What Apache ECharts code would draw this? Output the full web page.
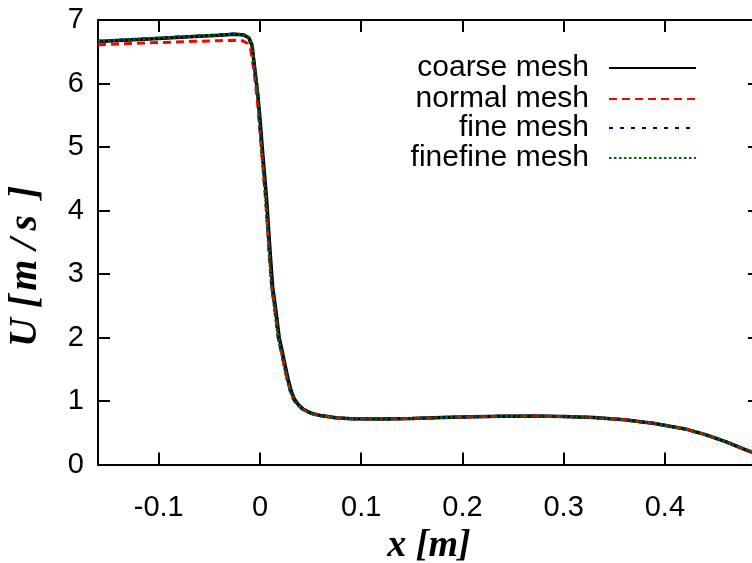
<!DOCTYPE html>
<html>
<head>
<meta charset="utf-8">
<script src="https://cdn.jsdelivr.net/npm/echarts@6/dist/echarts.min.js"></script>
<style>
html,body{margin:0;padding:0;background:#fff;}
#chart{width:752px;height:563px;}
</style>
</head>
<body>
<div id="chart"></div>
<script>
// ---- data ----
var seriesNames = ['coarse mesh', 'normal mesh', 'fine mesh', 'finefine mesh'];
var xTicks = [-0.1, 0, 0.1, 0.2, 0.3, 0.4];
var yTicks = [0, 1, 2, 3, 4, 5, 6, 7];

var xCoarse = [-0.16, -0.13, -0.10, -0.07, -0.04, -0.025, -0.016, -0.011, -0.008, -0.005, -0.002, 0.000, 0.003, 0.0066, 0.010, 0.0125, 0.0155, 0.019, 0.022, 0.025, 0.028, 0.031, 0.034, 0.038, 0.043, 0.050, 0.060, 0.075, 0.09, 0.12, 0.15, 0.18, 0.21, 0.24, 0.27, 0.30, 0.33, 0.36, 0.39, 0.42, 0.44, 0.46, 0.48, 0.494];
var uCoarse = [6.66, 6.685, 6.71, 6.735, 6.76, 6.775, 6.765, 6.72, 6.61, 6.22, 5.80, 5.45, 4.85, 4.17, 3.35, 2.80, 2.45, 2.00, 1.78, 1.55, 1.33, 1.15, 1.03, 0.94, 0.87, 0.81, 0.77, 0.735, 0.72, 0.715, 0.725, 0.74, 0.752, 0.76, 0.762, 0.755, 0.74, 0.705, 0.645, 0.56, 0.47, 0.36, 0.23, 0.15];

var xNormal = [-0.16, -0.13, -0.10, -0.07, -0.04, -0.025, -0.017, -0.012, -0.009, -0.006, -0.003, -0.001, 0.002, 0.0056, 0.009, 0.0115, 0.0145, 0.018, 0.021, 0.024, 0.027, 0.030, 0.033, 0.037, 0.042, 0.049, 0.059, 0.074, 0.09, 0.12, 0.15, 0.18, 0.21, 0.24, 0.27, 0.30, 0.33, 0.36, 0.39, 0.42, 0.44, 0.46, 0.48, 0.494];
var uNormal = [6.61, 6.63, 6.645, 6.66, 6.675, 6.68, 6.67, 6.63, 6.53, 6.20, 5.80, 5.45, 4.85, 4.17, 3.35, 2.80, 2.45, 2.00, 1.78, 1.55, 1.33, 1.15, 1.03, 0.94, 0.87, 0.81, 0.77, 0.735, 0.72, 0.715, 0.725, 0.74, 0.752, 0.76, 0.762, 0.755, 0.74, 0.705, 0.645, 0.56, 0.47, 0.36, 0.23, 0.15];

var xFine = [-0.16, -0.13, -0.10, -0.07, -0.04, -0.025, -0.016, -0.011, -0.008, -0.005, -0.002, -0.0005, 0.0025, 0.006, 0.0093, 0.0118, 0.0148, 0.0183, 0.0213, 0.0243, 0.0273, 0.0303, 0.0333, 0.0373, 0.0423, 0.0495, 0.0595, 0.0745, 0.09, 0.12, 0.15, 0.18, 0.21, 0.24, 0.27, 0.30, 0.33, 0.36, 0.39, 0.42, 0.44, 0.46, 0.48, 0.494];
var uFine = [6.665, 6.69, 6.715, 6.74, 6.765, 6.78, 6.77, 6.72, 6.61, 6.22, 5.80, 5.45, 4.85, 4.17, 3.35, 2.80, 2.45, 2.00, 1.78, 1.55, 1.33, 1.15, 1.03, 0.94, 0.87, 0.81, 0.77, 0.735, 0.72, 0.715, 0.725, 0.74, 0.752, 0.76, 0.762, 0.755, 0.74, 0.705, 0.645, 0.56, 0.47, 0.36, 0.23, 0.15];

var xFineFine = [-0.16, -0.13, -0.10, -0.07, -0.04, -0.025, -0.016, -0.011, -0.008, -0.005, -0.002, -0.0008, 0.0022, 0.0057, 0.009, 0.0115, 0.0145, 0.018, 0.021, 0.024, 0.027, 0.030, 0.033, 0.037, 0.042, 0.049, 0.059, 0.074, 0.09, 0.12, 0.15, 0.18, 0.21, 0.24, 0.27, 0.30, 0.33, 0.36, 0.39, 0.42, 0.44, 0.46, 0.48, 0.494];
var uFineFine = [6.665, 6.69, 6.715, 6.74, 6.765, 6.78, 6.77, 6.72, 6.61, 6.22, 5.80, 5.45, 4.85, 4.17, 3.35, 2.80, 2.45, 2.00, 1.78, 1.55, 1.33, 1.15, 1.03, 0.94, 0.87, 0.81, 0.77, 0.735, 0.72, 0.715, 0.725, 0.74, 0.752, 0.76, 0.762, 0.755, 0.74, 0.705, 0.645, 0.56, 0.47, 0.36, 0.23, 0.15];

function pairs(xs, ys) {
  var out = [];
  for (var i = 0; i < xs.length; i++) out.push([xs[i], ys[i]]);
  return out;
}

var chart = echarts.init(document.getElementById('chart'), null, {renderer: 'canvas'});
var sansFont = 'Liberation Sans';
var serifFont = 'Liberation Serif';
var X_MIN = -0.16, X_MAX = 0.494;

var axisLine = {show: true, onZero: false, lineStyle: {color: '#000', width: 2}};
var tickStyle = {show: true, inside: true, length: 12, lineStyle: {color: '#000', width: 2}};

function legendFor(name, top) {
  return {
    data: [name],
    right: 55,
    top: top,
    orient: 'vertical',
    align: 'right',
    padding: 0,
    itemWidth: 87,
    itemHeight: 14,
    selectedMode: false,
    itemStyle: {opacity: 0},
    textStyle: {fontFamily: sansFont, fontSize: 30, color: '#000', padding: [0, 15, 0, 0]}
  };
}

var nameStyle = {fontFamily: serifFont, fontStyle: 'italic', fontWeight: 'bold', fontSize: 40, color: '#000'};

var option = {
  backgroundColor: '#fff',
  animation: false,
  grid: {left: 98, top: 20, right: -8, bottom: 98.5, containLabel: false, outerBoundsMode: 'none'},
  legend: [
    legendFor(seriesNames[0], 53),
    legendFor(seriesNames[1], 84),
    legendFor(seriesNames[2], 113),
    legendFor(seriesNames[3], 143)
  ],
  xAxis: [
    {
      type: 'value', position: 'bottom', min: X_MIN, max: X_MAX,
      axisLine: axisLine,
      axisTick: Object.assign({customValues: xTicks}, tickStyle),
      axisLabel: {customValues: xTicks, fontFamily: sansFont, fontSize: 29, color: '#000', margin: 29},
      splitLine: {show: false},
      name: 'x [m]', nameLocation: 'middle', nameGap: 58,
      nameTextStyle: {fontFamily: serifFont, fontStyle: 'italic', fontWeight: 'bold', fontSize: 38, color: '#000'}
    },
    {
      type: 'value', position: 'top', min: X_MIN, max: X_MAX,
      axisLine: axisLine,
      axisTick: Object.assign({customValues: xTicks}, tickStyle),
      axisLabel: {show: false},
      splitLine: {show: false}
    }
  ],
  yAxis: [
    {
      type: 'value', position: 'left', min: 0, max: 7, interval: 1,
      axisLine: axisLine,
      axisTick: tickStyle,
      axisLabel: {fontFamily: sansFont, fontSize: 29, color: '#000', margin: 14},
      splitLine: {show: false},
      name: '{u|U }{b|[}{m|m}{sl|/}{s|s}{e|]}', nameLocation: 'middle', nameGap: 52, nameRotate: 90,
      nameTextStyle: Object.assign({
        rich: {
          u: Object.assign({}, nameStyle),
          b: Object.assign({}, nameStyle),
          m: Object.assign({padding: [0, 4, 0, 4]}, nameStyle),
          sl: Object.assign({padding: [0, 6, 0, 6]}, nameStyle),
          s: Object.assign({padding: [0, 4, 0, 2]}, nameStyle),
          e: Object.assign({padding: [0, 48, 0, 12]}, nameStyle)
        }
      }, nameStyle)
    },
    {
      type: 'value', position: 'right', min: 0, max: 7, interval: 1,
      axisLine: axisLine,
      axisTick: tickStyle,
      axisLabel: {show: false},
      splitLine: {show: false}
    }
  ],
  series: [
    {
      name: seriesNames[0], type: 'line', symbol: 'none', data: pairs(xCoarse, uCoarse),
      lineStyle: {color: '#000', width: 3.5, type: 'solid'}, itemStyle: {color: '#000'}, z: 2
    },
    {
      name: seriesNames[1], type: 'line', symbol: 'none', data: pairs(xNormal, uNormal),
      lineStyle: {color: '#ff0000', width: 3, type: [8, 5]}, itemStyle: {color: '#ff0000'}, z: 3
    },
    {
      name: seriesNames[2], type: 'line', symbol: 'none', data: pairs(xFine, uFine),
      lineStyle: {color: '#00008b', width: 3, type: [4, 7]}, itemStyle: {color: '#00008b'}, z: 4
    },
    {
      name: seriesNames[3], type: 'line', symbol: 'none', data: pairs(xFineFine, uFineFine),
      lineStyle: {color: '#006400', width: 3, type: [2.5, 2.5]}, itemStyle: {color: '#006400'}, z: 5
    }
  ]
};
chart.setOption(option);
</script>
</body>
</html>
